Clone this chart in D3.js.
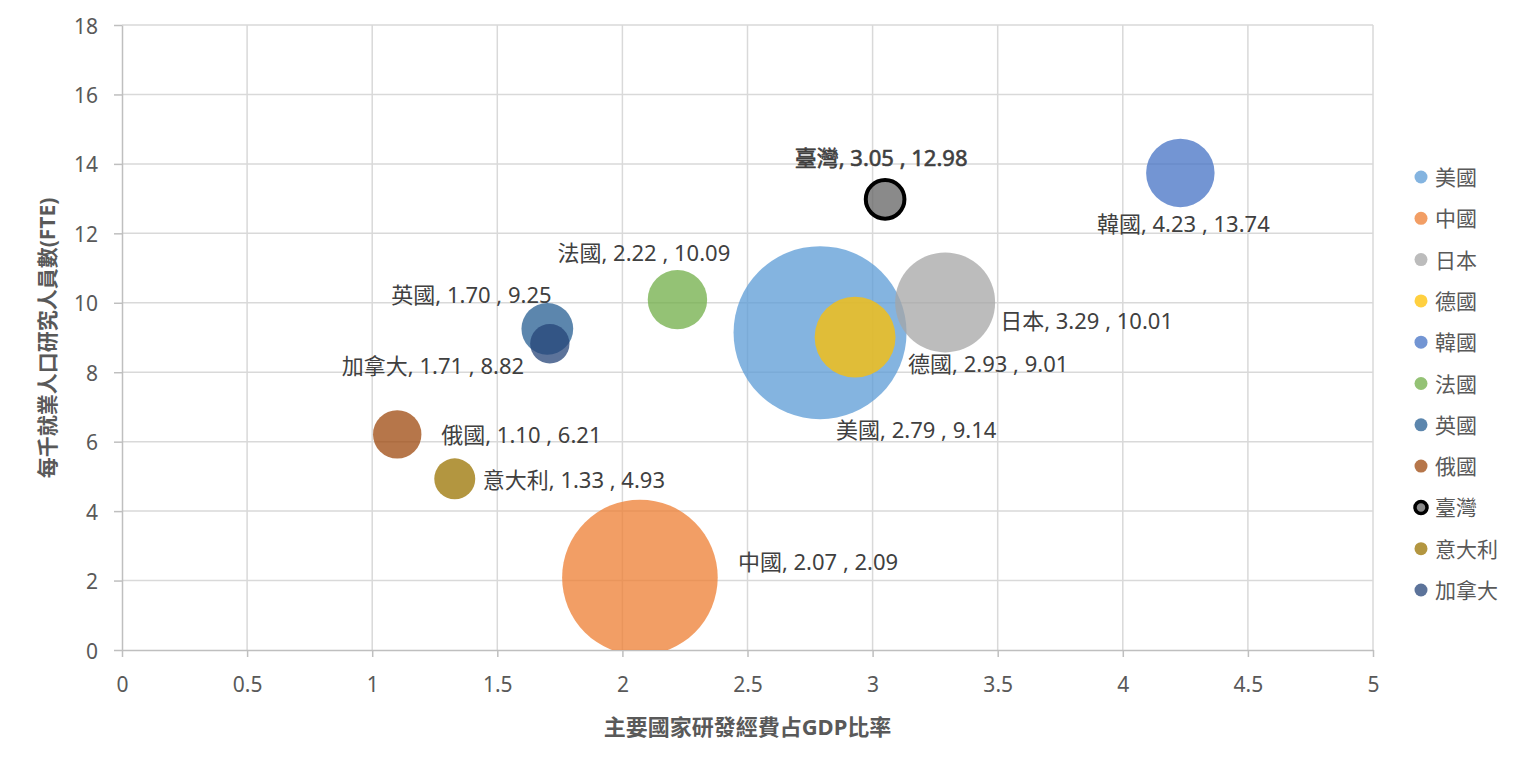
<!DOCTYPE html>
<html>
<head>
<meta charset="utf-8">
<script src="https://cdn.jsdelivr.net/npm/d3@7"></script>
<style>
  body { margin: 0; background: #fff; }
  text { font-family: "Noto Sans", "Noto Sans CJK TC", sans-serif; }
</style>
</head>
<body>
<div id="chart"></div>
<script>
// datos
var paises = ["美國", "中國", "日本", "德國", "韓國", "法國", "英國", "俄國", "臺灣", "意大利", "加拿大"];
var gastoGDP = [2.79, 2.07, 3.29, 2.93, 4.23, 2.22, 1.70, 1.10, 3.05, 1.33, 1.71];
var investigadores = [9.14, 2.09, 10.01, 9.01, 13.74, 10.09, 9.25, 6.21, 12.98, 4.93, 8.82];
var tamano = [581, 470, 194, 127, 91, 68.5, 52, 45.5, 29, 32.6, 30];
var xTicks = [0, 0.5, 1, 1.5, 2, 2.5, 3, 3.5, 4, 4.5, 5];
var yTicks = [0, 2, 4, 6, 8, 10, 12, 14, 16, 18];

// colores (Excel) y posicion de etiquetas relativa al centro de la burbuja
var colores = ["#5B9BD5", "#ED7D31", "#A5A5A5", "#FFC000", "#4472C4", "#70AD47",
               "#255E91", "#9E480E", "#636363", "#997300", "#264478"];
var etiquetaPos = [[16, 96, "start"], [98, -16, "start"], [55, 18, "start"], [53, 26, "start"],
                   [3, 50, "middle"], [-120, -48, "start"], [-156, -35, "start"], [44, 0, "start"],
                   [-4, -42, "middle"], [28, 0, "start"], [-208, 21, "start"]];

var data = paises.map(function(p, i) {
  return {name: p, x: gastoGDP[i], y: investigadores[i], size: tamano[i],
          color: colores[i], lab: etiquetaPos[i]};
});

var W = 1521, H = 769;
var margin = {top: 25, right: 148, bottom: 119, left: 122},
  ancho = W - margin.left - margin.right,
  altura = H - margin.top - margin.bottom;

var svg = d3.select("#chart")
  .append("svg")
    .attr("width", W)
    .attr("height", H)
  .append("g")
    .attr("transform", "translate(" + margin.left + "," + margin.top + ")");

var x = d3.scaleLinear().domain([0, 5]).range([0, ancho]);
var y = d3.scaleLinear().domain([0, 18]).range([altura, 0]);
var r = d3.scaleSqrt().domain([0, d3.max(tamano)]).range([0, 86.5]);

// grilla
svg.append("g")
  .selectAll("line.h")
  .data(yTicks.slice(1))
  .enter().append("line")
    .attr("x1", 0).attr("x2", ancho)
    .attr("y1", function(d) { return y(d); })
    .attr("y2", function(d) { return y(d); })
    .style("stroke", "#D9D9D9").style("stroke-width", 1.5);
svg.append("g")
  .selectAll("line.v")
  .data(xTicks.slice(1))
  .enter().append("line")
    .attr("y1", 0).attr("y2", altura)
    .attr("x1", function(d) { return x(d); })
    .attr("x2", function(d) { return x(d); })
    .style("stroke", "#D9D9D9").style("stroke-width", 1.5);

// ejes
var ejeX = svg.append("g")
  .attr("transform", "translate(0," + altura + ")")
  .call(d3.axisBottom(x).tickValues(xTicks).tickSize(7).tickSizeOuter(0).tickPadding(24)
    .tickFormat(function(d) { return d; }));
var ejeY = svg.append("g")
  .call(d3.axisLeft(y).tickValues(yTicks).tickSize(8).tickSizeOuter(0).tickPadding(16));
[ejeX, ejeY].forEach(function(g) {
  g.select(".domain").style("stroke", "#BFBFBF").style("stroke-width", 1.5);
  g.selectAll(".tick line").style("stroke", "#BFBFBF").style("stroke-width", 1.5);
  g.selectAll(".tick text")
    .style("font-family", "'Noto Sans', 'Noto Sans CJK TC', sans-serif")
    .style("font-size", "21px").style("fill", "#595959");
});
ejeX.selectAll(".tick text").attr("dy", null).attr("y", 34).attr("dominant-baseline", "central");
ejeY.selectAll(".tick text").attr("dy", null).attr("dominant-baseline", "central");

// burbujas
svg.append("clipPath").attr("id", "area")
  .append("rect").attr("width", ancho).attr("height", altura);

svg.append("g")
  .attr("clip-path", "url(#area)")
  .selectAll("circle")
  .data(data)
  .enter().append("circle")
    .attr("cx", function(d) { return x(d.x); })
    .attr("cy", function(d) { return y(d.y); })
    .attr("r", function(d) { return r(d.size); })
    .style("fill", function(d) { return d.color; })
    .style("fill-opacity", 0.75)
    .style("stroke", function(d) { return d.name == "臺灣" ? "#000" : "none"; })
    .style("stroke-width", 4);

// etiquetas de datos
svg.append("g")
  .selectAll("text")
  .data(data)
  .enter().append("text")
    .attr("x", function(d) { return x(d.x) + d.lab[0]; })
    .attr("y", function(d) { return y(d.y) + d.lab[1]; })
    .attr("text-anchor", function(d) { return d.lab[2]; })
    .attr("dominant-baseline", "central")
    .style("font-size", "22px")
    .style("fill", "#404040")
    .style("stroke", function(d) { return d.name == "臺灣" ? "#404040" : "none"; })
    .style("stroke-width", 0.6)
    .text(function(d) { return d.name + ", " + d.x.toFixed(2) + " , " + d.y.toFixed(2); });

// titulos de ejes
svg.append("text")
  .attr("x", ancho / 2)
  .attr("y", altura + 76)
  .attr("text-anchor", "middle")
  .attr("dominant-baseline", "central")
  .style("font-size", "22px").style("font-weight", "bold").style("fill", "#595959")
  .text("主要國家研發經費占GDP比率");
svg.append("text")
  .attr("transform", "translate(" + (47 - margin.left) + "," + (338 - margin.top) + ") rotate(-90)")
  .attr("text-anchor", "middle")
  .attr("dominant-baseline", "central")
  .style("font-size", "21px").style("font-weight", "bold").style("fill", "#595959")
  .text("每千就業人口研究人員數(FTE)");

// leyenda
var leyenda = svg.append("g")
  .attr("transform", "translate(" + (1421 - margin.left) + "," + (177 - margin.top) + ")");
var fila = leyenda.selectAll("g")
  .data(data)
  .enter().append("g")
    .attr("transform", function(d, i) { return "translate(0," + (i * 41.3) + ")"; });
fila.append("circle")
  .attr("r", function(d) { return d.name == "臺灣" ? 6 : 6.5; })
  .style("fill", function(d) { return d.color; })
  .style("fill-opacity", 0.75)
  .style("stroke", function(d) { return d.name == "臺灣" ? "#000" : "none"; })
  .style("stroke-width", 3.5);
fila.append("text")
  .attr("x", 14)
  .attr("dominant-baseline", "central")
  .style("font-size", "21px").style("fill", "#595959")
  .text(function(d) { return d.name; });
</script>
</body>
</html>
